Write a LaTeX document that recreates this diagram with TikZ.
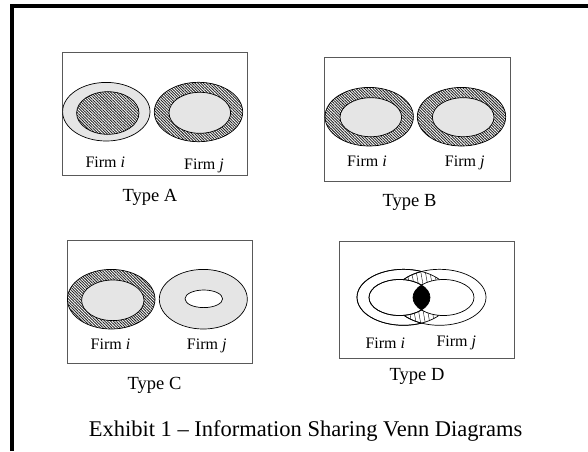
\documentclass[tikz,border=0pt]{standalone}
\usepackage{fontspec}
\setmainfont{Liberation Serif}
\usetikzlibrary{patterns.meta}
\tikzset{
  panel/.style={draw=black!65, line width=0.9pt},
  edge/.style={draw=black, line width=0.7pt},
  dotfill/.style={fill=black!10},
  hatchfill/.style={pattern={Lines[angle=-45,distance=2pt,line width=0.9pt]}, pattern color=black!85},
  sparsehatch/.style={pattern={Lines[angle=100,distance=4.5pt,line width=0.4pt]}, pattern color=black},
  firmlbl/.style={anchor=base, inner sep=0pt, font=\fontsize{16}{18}\selectfont},
  typelbl/.style={anchor=base, inner sep=0pt, font=\fontsize{18.5}{21}\selectfont},
  caplbl/.style={anchor=base, inner sep=0pt, font=\fontsize{22.5}{26}\selectfont}
}
\newcommand{\hatchring}[7]{% outer center, rx, ry ; inner center rx ry
  \fill[white] #1 ellipse [x radius=#2, y radius=#3];
  \fill[hatchfill] #1 ellipse [x radius=#2, y radius=#3];
  \path[edge] #1 ellipse [x radius=#2, y radius=#3];
  \path[dotfill,edge] #4 ellipse [x radius=#5, y radius=#6];
}
\begin{document}
\begin{tikzpicture}[x=1pt,y=-1pt]
\useasboundingbox (0,0) rectangle (588,451);
\fill[white] (0,0) rectangle (588,451);
% outer frame
\draw[line width=4pt, line join=miter] (12,451) -- (12,6) -- (588,6);

% ---------- Type A ----------
\draw[panel] (62.5,52.7) rectangle (247.2,175.7);
\path[dotfill,edge] (106.3,111.7) ellipse [x radius=43.7, y radius=29.3];
\fill[white] (107.8,113) ellipse [x radius=31.2, y radius=21.3];
\fill[hatchfill] (107.8,113) ellipse [x radius=31.2, y radius=21.3];
\path[edge] (107.8,113) ellipse [x radius=31.2, y radius=21.3];
\hatchring{(198.5,112)}{44.2}{29.7}{(199.8,112.8)}{30.8}{20.5}{}
\node[firmlbl] (ai) at (105.3,167.3) {Firm \textit{i}};
\node[firmlbl] (aj) at (204,169.5) {Firm \textit{j}};
\node[typelbl] (ta) at (150,201.7) {Type A};

% ---------- Type B ----------
\draw[panel] (324.8,57.5) rectangle (510.2,181);
\hatchring{(369.2,116.7)}{44.2}{29.3}{(370.8,117.2)}{30.8}{19.5}{}
\hatchring{(461.5,116.7)}{44.2}{29.3}{(463.2,117.2)}{30.8}{19.5}{}
\node[firmlbl] (bi) at (367,166) {Firm \textit{i}};
\node[firmlbl] (bj) at (464.7,166) {Firm \textit{j}};
\node[typelbl] (tb) at (409.5,206.7) {Type B};

% ---------- Type C ----------
\draw[panel] (67.4,240.2) rectangle (252.3,363.3);
\hatchring{(111.2,299.2)}{43.8}{29.8}{(112.8,300.3)}{31.2}{20.3}{}
\path[dotfill,edge] (203.3,299.2) ellipse [x radius=44, y radius=29.8];
\path[fill=white,edge] (203.8,298.8) ellipse [x radius=18.8, y radius=8.8];
\node[firmlbl] (ci) at (110.5,349) {Firm \textit{i}};
\node[firmlbl] (cj) at (206.7,349) {Firm \textit{j}};
\node[typelbl] (tc) at (154.5,389.3) {Type C};

% ---------- Type D ----------
\draw[panel] (339.4,241.7) rectangle (514.8,358.5);
% outer ellipses
\path[fill=white,edge] (403.5,297.3) ellipse [x radius=46.5, y radius=28];
\path[fill=white,edge] (439.5,297.3) ellipse [x radius=46.5, y radius=28];
% intersection of outer ellipses, hatched
\begin{scope}
  \clip (403.5,297.3) ellipse [x radius=46.5, y radius=28];
  \fill[sparsehatch] (439.5,297.3) ellipse [x radius=46.5, y radius=28];
  \path[edge] (439.5,297.3) ellipse [x radius=46.5, y radius=28];
\end{scope}
\path[edge] (403.5,297.3) ellipse [x radius=46.5, y radius=28];
% inner ellipses
\path[fill=white,edge] (399.5,297.5) ellipse [x radius=30.5, y radius=18];
\path[fill=white,edge] (443.5,297.5) ellipse [x radius=30.5, y radius=18];
\begin{scope}
  \clip (399.5,297.5) ellipse [x radius=30.5, y radius=18];
  \fill[black] (443.5,297.5) ellipse [x radius=30.5, y radius=18];
\end{scope}
\path[edge] (399.5,297.5) ellipse [x radius=30.5, y radius=18];
\node[firmlbl] (di) at (385.3,348.3) {Firm \textit{i}};
\node[firmlbl] (dj) at (456.3,346.7) {Firm \textit{j}};
\node[typelbl] (td) at (417,380) {Type D};

% caption
\node[caplbl] (cap) at (305.6,436.5) {Exhibit 1 – Information Sharing Venn Diagrams};
\end{tikzpicture}
\end{document}
